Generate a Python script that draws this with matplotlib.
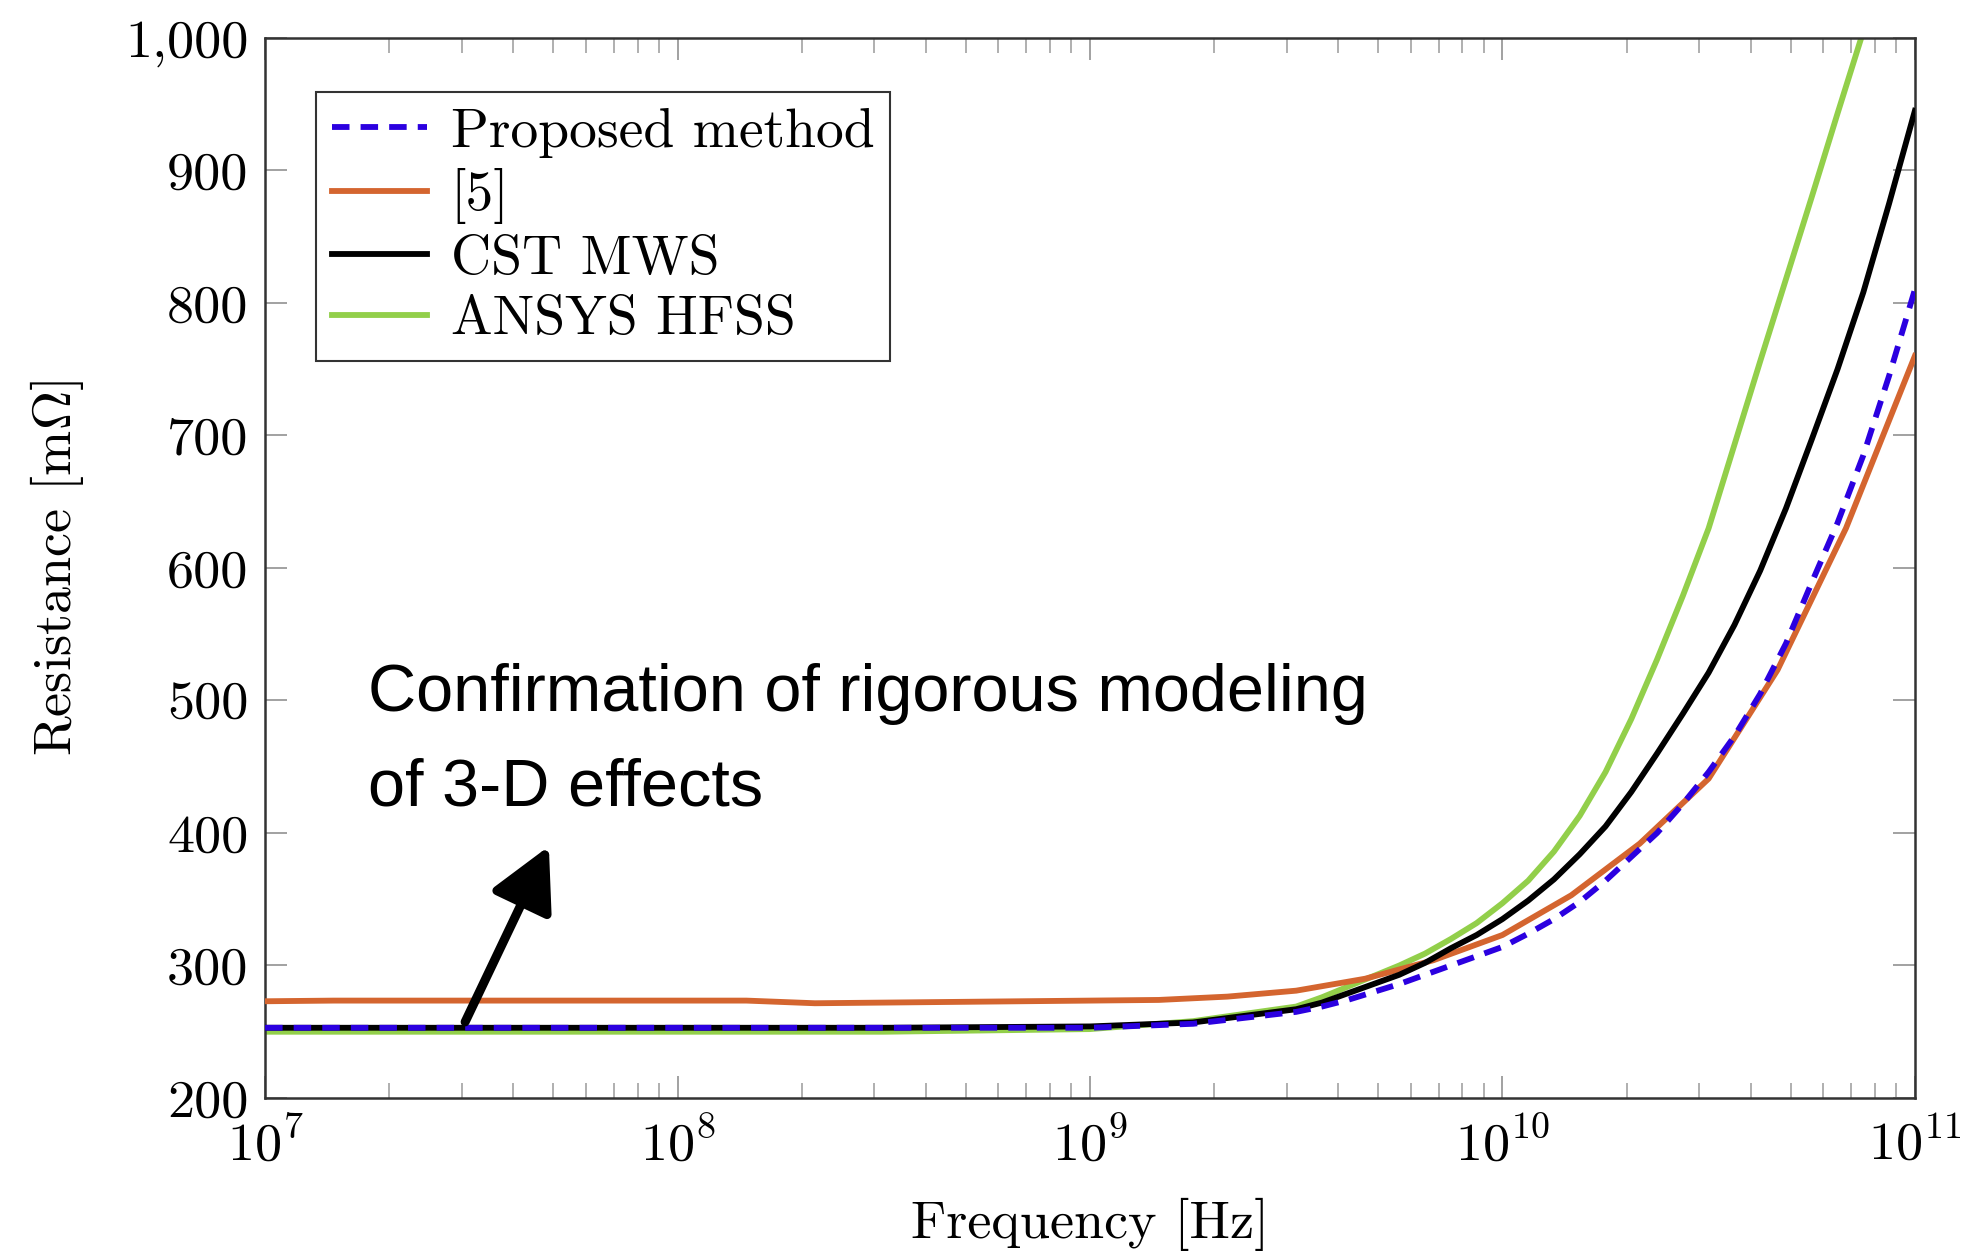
import numpy as np
import matplotlib
matplotlib.use("Agg")
import matplotlib.pyplot as plt
from matplotlib.ticker import FixedLocator, FuncFormatter, LogLocator, NullFormatter

plt.rcParams["font.family"] = "serif"
plt.rcParams["font.serif"] = ["cmr10"]
plt.rcParams["mathtext.fontset"] = "cm"
plt.rcParams["axes.formatter.use_mathtext"] = True

# Frequency grid (log10 of Hz) for the smooth solver curves
log_f = [7.0, 8.0, 8.5, 9.0, 9.25, 9.5, 9.5625, 9.625, 9.6875, 9.75,
         9.8125, 9.875, 9.9375, 10.0, 10.0625, 10.125, 10.1875, 10.25,
         10.3125, 10.375, 10.4375, 10.5, 10.5625, 10.625, 10.6875, 10.75,
         10.8125, 10.875, 10.9375, 11.0]

proposed = [253, 253, 253, 253, 256, 265, 269, 274, 280, 286,
            293, 300, 307, 314, 324, 335, 348, 364,
            382, 400, 422, 446, 473, 505, 543, 589,
            634, 685, 745, 810]
cst_mws = [253, 253, 253, 254, 257, 267, 272, 279, 286, 293,
           302, 313, 323, 335, 349, 365, 384, 405,
           431, 460, 490, 521, 557, 598, 645, 697,
           750, 808, 875, 945]
hfss = [250, 250, 250, 252, 258, 269, 276, 284, 292, 300,
        309, 320, 332, 347, 364, 386, 413, 446,
        486, 531, 579, 630, 693, 756, 818, 880,
        943, 1005, 1068, 1130]

# Reference [5] sampled at six points per decade
log_f_ref5 = [7.0, 7.167, 7.333, 7.5, 7.667, 7.833, 8.0, 8.167, 8.333, 8.5,
              8.667, 8.833, 9.0, 9.167, 9.333, 9.5, 9.667, 9.833, 10.0,
              10.167, 10.333, 10.5, 10.667, 10.833, 11.0]
ref5 = [273, 273.5, 273.5, 273.5, 273.5, 273.5, 273.5, 273.5, 271.5, 272,
        272.5, 273, 273.5, 274, 276.5, 281, 290, 304, 323,
        353, 392, 441, 523, 630, 760]

y_ticks = [200, 300, 400, 500, 600, 700, 800, 900, 1000]
x_decades = [1e7, 1e8, 1e9, 1e10, 1e11]

freq = 10.0 ** np.array(log_f)
freq_ref5 = 10.0 ** np.array(log_f_ref5)

fig = plt.figure(figsize=(19.68, 12.57), dpi=100)
ax = fig.add_axes([0.1347, 0.1265, 0.8383, 0.8433])

lw = 4.2
ax.plot(freq, proposed, color="#2B00E0", lw=lw, linestyle=(0, (3, 1.9)),
        label="Proposed method", zorder=5)
ax.plot(freq_ref5, ref5, color="#D4652F", lw=lw, label="[5]", zorder=3)
ax.plot(freq, cst_mws, color="black", lw=lw, label="CST MWS", zorder=4)
ax.plot(freq, hfss, color="#92CF4A", lw=lw, label="ANSYS HFSS", zorder=2)

ax.set_xscale("log")
ax.set_xlim(1e7, 1e11)
ax.set_ylim(200, 1000)

ax.xaxis.set_major_locator(FixedLocator(x_decades))
ax.xaxis.set_minor_locator(LogLocator(base=10, subs=np.arange(2, 10)))
ax.xaxis.set_minor_formatter(NullFormatter())
ax.yaxis.set_major_locator(FixedLocator(y_ticks))
ax.yaxis.set_major_formatter(FuncFormatter(lambda v, p: f"{v:,.0f}"))

tick_color = "#9a9a9a"
ax.tick_params(axis="both", which="major", direction="in", length=16,
               width=1.3, color=tick_color, labelsize=39, top=True, right=True)
ax.tick_params(axis="x", which="minor", direction="in", length=11,
               width=1.1, color=tick_color, top=True, bottom=True)
ax.tick_params(axis="x", which="major", pad=14)
ax.tick_params(axis="y", which="major", pad=12)

for s in ax.spines.values():
    s.set_color("#333333")
    s.set_linewidth(1.8)

ax.set_xlabel("Frequency [Hz]", fontsize=39, labelpad=20)
ax.set_ylabel(r"Resistance [m$\Omega$]", fontsize=39, labelpad=28)

leg = ax.legend(loc="upper left", bbox_to_anchor=(0.031, 0.949), fontsize=40,
                frameon=True, fancybox=False, framealpha=1, edgecolor="#333333",
                handlelength=1.72, handletextpad=0.42, labelspacing=0.19,
                borderpad=0.28, borderaxespad=0)
leg.get_frame().set_linewidth(1.5)

# Callout text and arrow
ax.text(10 ** 7.25, 492, "Confirmation of rigorous modeling",
        fontsize=48, family="Liberation Sans", va="baseline", ha="left")
ax.text(10 ** 7.25, 420.4, "of 3-D effects",
        fontsize=48, family="Liberation Sans", va="baseline", ha="left")
ax.annotate("", xy=(10 ** 7.688, 390), xytext=(10 ** 7.485, 257.4),
            arrowprops=dict(arrowstyle="-|>,head_length=1.9,head_width=1.0",
                            mutation_scale=20, lw=6.5, color="black",
                            shrinkA=0, shrinkB=0),
            zorder=6)

fig.savefig("out.png", dpi=100)
